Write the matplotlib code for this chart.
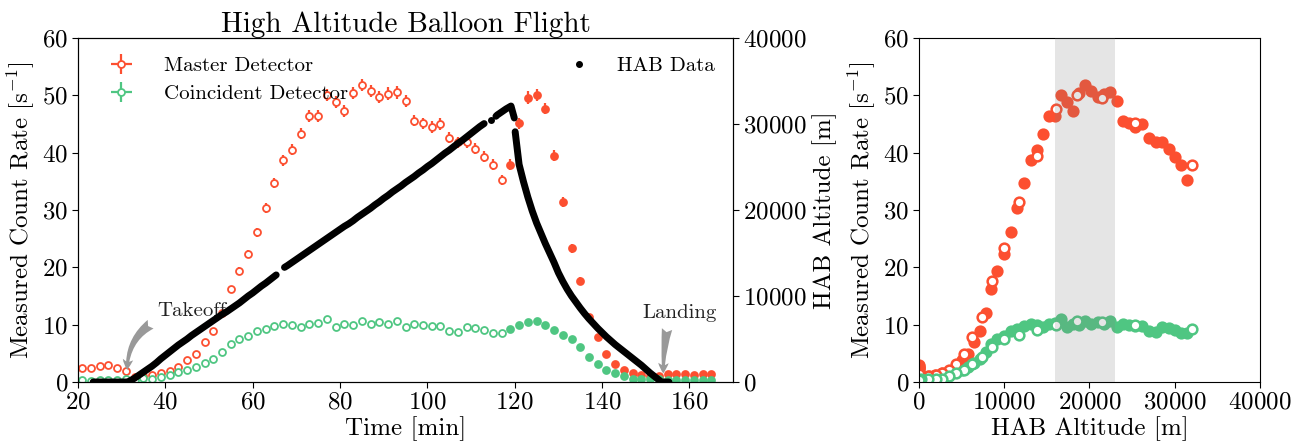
import numpy as np
import matplotlib
matplotlib.use("Agg")
import matplotlib.pyplot as plt
from matplotlib.lines import Line2D

plt.rcParams["font.family"] = "cmr10"
plt.rcParams["mathtext.fontset"] = "cm"
plt.rcParams["axes.formatter.use_mathtext"] = True
plt.rcParams["axes.unicode_minus"] = False

# ---- count-rate data (2-minute bins) ----
bin_time = np.arange(21, 166, 2)  # bin centres [min]

master_rate = [2.5, 2.4, 2.85, 2.9, 2.5, 1.95, 0.9, 1.05, 1.2, 1.5,
               1.9, 2.55, 3.8, 4.9, 6.9, 8.9, 12.1, 16.2, 19.4, 22.3,
               26.1, 30.4, 34.7, 38.7, 40.5, 43.3, 46.4, 46.4, 50.0, 48.9,
               47.3, 50.4, 51.8, 50.8, 49.7, 50.3, 50.5, 49.0, 45.6, 45.1,
               44.5, 45.0, 42.6, 41.8, 41.8, 40.7, 39.3, 37.9, 35.2, 37.9,
               45.1, 49.6, 50.1, 47.7, 39.5, 31.4, 23.3, 17.7, 11.4, 7.8,
               4.9, 3.2, 2.15, 1.5, 1.25, 1.1, 1.1, 1.4, 1.4, 1.4,
               1.3, 1.35, 1.45]

master_err = [0.24, 0.23, 0.26, 0.26, 0.24, 0.22, 0.15, 0.15, 0.16, 0.19,
              0.20, 0.24, 0.30, 0.34, 0.39, 0.45, 0.53, 0.61, 0.66, 0.72,
              0.77, 0.84, 0.89, 0.95, 0.96, 1.00, 1.03, 1.03, 1.07, 1.05,
              1.04, 1.07, 1.08, 1.08, 1.07, 1.07, 1.07, 1.05, 1.01, 1.01,
              1.01, 1.01, 0.99, 0.97, 0.97, 0.96, 0.95, 0.93, 0.89, 0.93,
              1.01, 1.07, 1.07, 1.04, 0.95, 0.85, 0.73, 0.63, 0.51, 0.42,
              0.34, 0.27, 0.22, 0.19, 0.18, 0.16, 0.16, 0.18, 0.18, 0.18,
              0.18, 0.18, 0.18]

coinc_rate = [0.35, 0.2, 0.3, 0.4, 0.4, 0.45, 0.4, 0.64, 0.58, 0.93,
              1.16, 1.69, 2.09, 2.67, 3.37, 4.0, 5.17, 6.6, 7.56, 7.96,
              8.9, 9.3, 9.77, 10.2, 9.94, 9.6, 10.1, 10.3, 11.0, 9.6,
              10.2, 9.94, 10.6, 10.2, 10.4, 10.1, 10.6, 9.6, 10.1, 9.9,
              9.7, 9.7, 8.9, 8.75, 9.6, 9.35, 9.1, 8.6, 8.6, 9.3,
              10.0, 10.5, 10.6, 10.0, 9.0, 8.2, 7.5, 6.1, 4.4, 3.2,
              2.1, 1.6, 1.05, 0.6, 0.55, 0.5, 0.45, 0.4, 0.4, 0.4,
              0.4, 0.4, 0.4]

coinc_err = [0.09, 0.07, 0.08, 0.09, 0.09, 0.10, 0.09, 0.12, 0.11, 0.14,
             0.16, 0.19, 0.22, 0.24, 0.27, 0.30, 0.34, 0.38, 0.41, 0.42,
             0.44, 0.45, 0.47, 0.48, 0.47, 0.46, 0.47, 0.48, 0.49, 0.46,
             0.48, 0.47, 0.49, 0.48, 0.48, 0.47, 0.49, 0.46, 0.47, 0.47,
             0.46, 0.46, 0.44, 0.44, 0.46, 0.46, 0.45, 0.44, 0.44, 0.45,
             0.47, 0.48, 0.49, 0.47, 0.45, 0.43, 0.41, 0.37, 0.31, 0.27,
             0.22, 0.19, 0.15, 0.12, 0.11, 0.11, 0.10, 0.09, 0.09, 0.09,
             0.09, 0.09, 0.09]

# balloon altitude at each bin centre [m]
bin_altitude = [0, 0, 0, 0, 0, 0, 450, 1150, 1850, 2700,
                3500, 4300, 5000, 5750, 6450, 7150, 7850, 8500, 9200, 10000,
                10750, 11500, 12300, 13200, 13900, 14600, 15300, 16000, 16700, 17400,
                18100, 18750, 19500, 20200, 20950, 21700, 22450, 23200, 23900, 24650,
                25400, 26200, 26950, 27750, 28500, 29300, 30050, 30700, 31400, 32000,
                25300, 21500, 18500, 16100, 13900, 11700, 10000, 8600, 7350, 6250,
                5250, 4350, 3550, 2750, 1950, 1050, 250, 0, 0, 0,
                0, 0, 0]

burst_time = 118  # bins after this belong to the descent

# ---- HAB GPS track (NaN marks telemetry dropouts) ----
hab_time = [23.5, 24, 25, 26, 27, 28, 29, 30, 31, 31.5,
            32, 33, 34, 35, 36, 37, 38, 39, 40, 41,
            42, 43, 44, 45, 46, 47, 48, 49, 50, 51,
            52, 53, 54, 55, 56, 57, 58, 59, 60, 61,
            62, 63, 64, 65, 65.4, 66, 67.3, 68, 69, 70,
            71, 72, 73, 74, 75, 76, 77, 78, 79, 80,
            81, 82, 83, 84, 85, 86, 87, 88, 89, 90,
            91, 92, 93, 94, 95, 96, 97, 98, 99, 100,
            101, 102, 103, 104, 105, 106, 107, 108, 109, 110,
            111, 112, 113, 113.6, 114.6, 115.1, 115.7, 116, 117, 118,
            119.15, 119.9, 120.0, 120.1, 121, 122, 123, 124, 125, 126,
            127, 128, 129, 130, 131, 132, 133, 134, 135, 136,
            137, 138, 139, 140, 141, 142, 143, 144, 145, 146,
            147, 148, 149, 150, 151, 152, 153, 153.6, 155.3]

hab_alt = [0, 0, 0, 0, 0, 0, 0, 0, 0, 20,
           150, 450, 800, 1150, 1500, 1850, 2250, 2700, 3100, 3500,
           3900, 4300, 4650, 5000, 5400, 5750, 6100, 6450, 6800, 7150,
           7500, 7850, 8150, 8500, 8850, 9200, 9600, 10000, 10350, 10750,
           11150, 11500, 11900, 12300, 12450, np.nan, 13330, 13550, 13900, 14250,
           14600, 14950, 15300, 15650, 16000, 16350, 16700, 17050, 17400, 17750,
           18100, 18400, 18750, 19150, 19500, 19850, 20200, 20600, 20950, 21350,
           21700, 22100, 22450, 22800, 23200, 23550, 23900, 24300, 24650, 25050,
           25400, 25800, 26200, 26600, 26950, 27350, 27750, 28100, 28500, 28900,
           29300, 29700, 30050, np.nan, 30450, np.nan, 30900, 31050, 31400, 31750,
           32090, 30700, np.nan, 29100, 25300, 23300, 21500, 19900, 18500, 17300,
           16100, 15000, 13900, 12700, 11700, 10800, 10000, 9300, 8600, 7950,
           7350, 6800, 6250, 5750, 5250, 4800, 4350, 3950, 3550, 3150,
           2750, 2350, 1950, 1500, 1050, 650, 250, 0, 0]

RED = "#fc4f30"
GREEN = "#4fc682"

t = np.asarray(bin_time, float)
m = np.asarray(master_rate)
me = np.asarray(master_err)
c = np.asarray(coinc_rate)
ce = np.asarray(coinc_err)
alt = np.asarray(bin_altitude, float)
up = t < burst_time
down = ~up

fig = plt.figure(figsize=(13.02, 4.43), dpi=100)
ax = fig.add_axes([0.0598, 0.1377, 0.5033, 0.7765])
ax_alt = ax.twinx()
ax_r = fig.add_axes([0.7058, 0.1377, 0.2619, 0.7765])

FS = 18
eb_kw = dict(fmt="o", ms=5, mew=1.3, elinewidth=1.6, capsize=0, xerr=0.3)

# left panel: rates vs time
h_m = ax.errorbar(t[up], m[up], yerr=me[up], color=RED, mfc="white", mec=RED,
                  ecolor=RED, label="Master Detector", **eb_kw)
ax.errorbar(t[down], m[down], yerr=me[down], color=RED, mfc=RED, mec=RED,
            ecolor=RED, **eb_kw)
h_c = ax.errorbar(t[up], c[up], yerr=ce[up], color=GREEN, mfc="white", mec=GREEN,
                  ecolor=GREEN, label="Coincident Detector", **eb_kw)
ax.errorbar(t[down], c[down], yerr=ce[down], color=GREEN, mfc=GREEN, mec=GREEN,
            ecolor=GREEN, **eb_kw)

# balloon track; the lone fix between dropouts is shown as a dot
lone_fix = [hab_time.index(114.6)]
ax_alt.plot(hab_time, hab_alt, color="black", lw=5, marker="o", ms=5, mew=0,
            markevery=lone_fix, solid_capstyle="round",
            solid_joinstyle="round", zorder=3)

ax.set_xlim(20, 170)
ax.set_ylim(0, 60)
ax_alt.set_ylim(0, 40000)
ax.set_xticks(np.arange(20, 161, 20))
ax.set_yticks(np.arange(0, 61, 10))
ax_alt.set_yticks(np.arange(0, 40001, 10000))
ax.set_xlabel("Time [min]", fontsize=FS, labelpad=2)
ax.set_ylabel(r"Measured Count Rate [s$^{-1}$]", fontsize=FS, labelpad=4)
ax_alt.set_ylabel("HAB Altitude [m]", fontsize=FS, labelpad=4)
ax.set_title("High Altitude Balloon Flight", fontsize=21, pad=4)
for a in (ax, ax_alt, ax_r):
    a.tick_params(labelsize=FS, length=4, pad=3)

ax.legend(handles=[h_m, h_c], loc="upper left", bbox_to_anchor=(0.02, 1.0),
          frameon=False, fontsize=15, handlelength=1.1, handletextpad=1.5,
          labelspacing=0.45)
hab_handle = Line2D([], [], color="black", marker=".", ls="none", ms=8)
ax_alt.legend(handles=[hab_handle], labels=["HAB Data"], loc="upper right",
              frameon=False, fontsize=15)

arrow_kw = dict(arrowstyle="fancy,head_length=0.5,head_width=0.5,tail_width=0.5",
                color="#999999", lw=0)
ax.annotate("Takeoff", xy=(31.3, 2.1), xytext=(38.1, 12.3), fontsize=15,
            ha="left", va="center", color="#222222",
            arrowprops=dict(connectionstyle="arc3,rad=0.3", relpos=(0.0, 0.0),
                            shrinkA=3, shrinkB=0, **arrow_kw))
ax.annotate("Landing", xy=(154.0, 1.5), xytext=(149.2, 12.0), fontsize=15,
            ha="left", va="center", color="#222222",
            arrowprops=dict(connectionstyle="arc3,rad=0.05", relpos=(0.35, 0.0),
                            shrinkA=3, shrinkB=0, **arrow_kw))

# right panel: rates vs altitude (ascent filled, descent open)
sc_kw = dict(ls="none", marker="o", ms=7, mew=1.8)
ax_r.plot(alt[up], m[up], color=RED, mfc=RED, mec=RED, **sc_kw)
ax_r.plot(alt[up], c[up], color=GREEN, mfc=GREEN, mec=GREEN, **sc_kw)
ax_r.plot(alt[down], m[down], color=RED, mfc="white", mec=RED, **sc_kw)
ax_r.plot(alt[down], c[down], color=GREEN, mfc="white", mec=GREEN, **sc_kw)
ax_r.axvspan(16000, 23000, color="gray", alpha=0.2, lw=0, zorder=5)

ax_r.set_xlim(0, 40000)
ax_r.set_ylim(0, 60)
ax_r.set_xticks(np.arange(0, 40001, 10000))
ax_r.set_yticks(np.arange(0, 61, 10))
ax_r.set_xlabel("HAB Altitude [m]", fontsize=FS, labelpad=2)
ax_r.set_ylabel(r"Measured Count Rate [s$^{-1}$]", fontsize=FS, labelpad=4)

fig.savefig("out.png", dpi=100)
